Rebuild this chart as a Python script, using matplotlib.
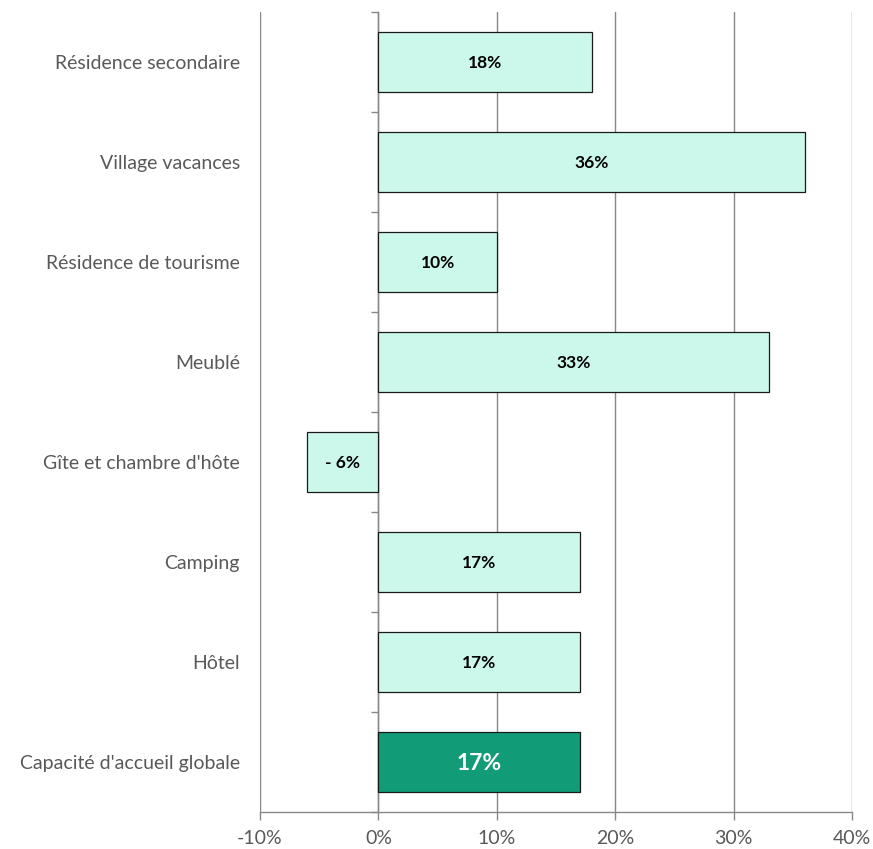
import matplotlib
matplotlib.use("Agg")
import matplotlib.pyplot as plt
from matplotlib.ticker import FuncFormatter

# Évolution de la capacité d'accueil par type d'hébergement
categories = [
    "Résidence secondaire",
    "Village vacances",
    "Résidence de tourisme",
    "Meublé",
    "Gîte et chambre d'hôte",
    "Camping",
    "Hôtel",
    "Capacité d'accueil globale",
]
values = [18, 36, 10, 33, -6, 17, 17, 17]
x_ticks = [-10, 0, 10, 20, 30, 40]

light = "#CCF8EB"
dark = "#129B77"
grey = "#888888"
text_grey = "#595959"

plt.rcParams["font.family"] = ["Lato", "DejaVu Sans"]

fig = plt.figure(figsize=(8.73, 8.49), dpi=100)
ax = fig.add_axes([260 / 873, 1 - 812 / 849, (852 - 260) / 873, 800 / 849])

ypos = list(range(len(categories)))
colors = [light] * (len(categories) - 1) + [dark]
bars = ax.barh(ypos, values, height=0.6, color=colors, edgecolor="#1a1a1a",
               linewidth=0.9, zorder=3)

ax.set_xlim(-10, 40)
ax.set_ylim(len(categories) - 0.5, -0.5)

# Value labels centred in the bars
for i, (bar, v) in enumerate(zip(bars, values)):
    label = f"- {abs(v)}%" if v < 0 else f"{v}%"
    cx = bar.get_x() + bar.get_width() / 2
    cy = bar.get_y() + bar.get_height() / 2
    if i == len(categories) - 1:
        ax.text(cx, cy + 0.02, label, ha="center", va="center", color="white",
                fontsize=16.5, fontweight="bold", zorder=4)
    else:
        ax.text(cx, cy + 0.01, label, ha="center", va="center", color="black",
                fontsize=12.5, fontweight="bold", zorder=4)

# Category labels on the left
ax.set_yticks(ypos)
ax.set_yticklabels(categories, fontsize=14, color=text_grey)
ax.tick_params(axis="y", length=0, pad=14.5)

# Percentage axis
ax.set_xticks(x_ticks)
ax.xaxis.set_major_formatter(FuncFormatter(lambda v, _: f"{v:.0f}%"))
ax.tick_params(axis="x", direction="out", length=6, width=1, color=grey,
               labelsize=14, labelcolor=text_grey, pad=7)
ax.grid(axis="x", color=grey, linewidth=1, zorder=0)
ax.grid(axis="y", visible=False)

for side in ("left", "right", "top"):
    ax.spines[side].set_visible(False)
ax.spines["bottom"].set_color(grey)
ax.spines["bottom"].set_linewidth(1)

# Zero axis with tick marks between categories
zero_frac = (0 - x_ticks[0]) / (x_ticks[-1] - x_ticks[0])
sec = ax.secondary_yaxis(zero_frac)
sec.set_yticks([y - 0.5 for y in ypos] + [len(categories) - 0.5])
sec.set_yticklabels([])
sec.tick_params(axis="y", direction="out", length=5, width=1, color=grey)
sec.spines["left"].set_color(grey)
sec.spines["left"].set_linewidth(1)

fig.savefig("out.png", dpi=100)
